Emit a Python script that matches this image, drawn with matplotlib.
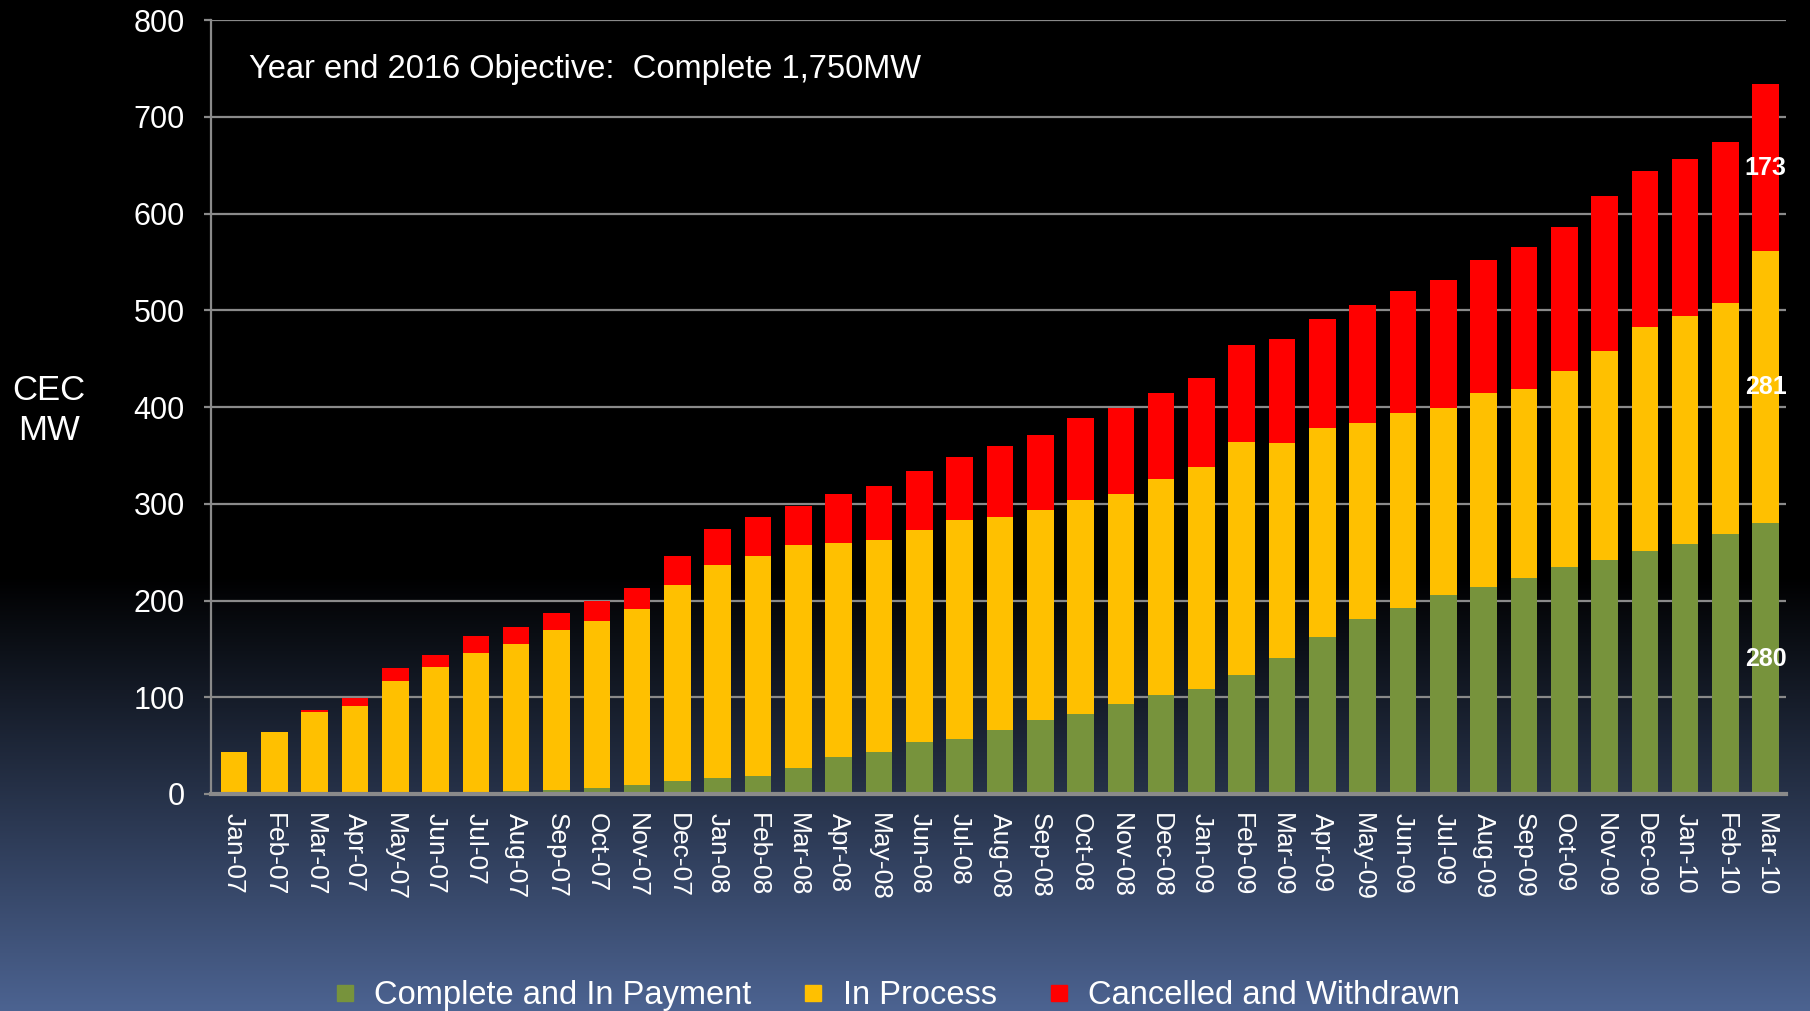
import numpy as np
import matplotlib.pyplot as plt
from matplotlib.lines import Line2D

plt.rcParams['font.family'] = ['Liberation Sans', 'DejaVu Sans']

# Monthly categories
months = ['Jan-07', 'Feb-07', 'Mar-07', 'Apr-07', 'May-07', 'Jun-07', 'Jul-07', 'Aug-07',
          'Sep-07', 'Oct-07', 'Nov-07', 'Dec-07',
          'Jan-08', 'Feb-08', 'Mar-08', 'Apr-08', 'May-08', 'Jun-08', 'Jul-08', 'Aug-08',
          'Sep-08', 'Oct-08', 'Nov-08', 'Dec-08',
          'Jan-09', 'Feb-09', 'Mar-09', 'Apr-09', 'May-09', 'Jun-09', 'Jul-09', 'Aug-09',
          'Sep-09', 'Oct-09', 'Nov-09', 'Dec-09',
          'Jan-10', 'Feb-10', 'Mar-10']

# MW in each state (stacked)
complete = [0.5, 1, 1, 1, 1, 1, 2, 3, 4, 6, 9, 13,
            16, 19, 27, 38, 43, 54, 57, 66, 76, 83, 93, 102,
            109, 123, 141, 162, 181, 192, 206, 214, 223, 235, 242, 251,
            258, 269, 280]
in_process = [42.5, 63, 84, 90, 116, 130, 144, 152, 165, 173, 182, 203,
              221, 227, 230, 221, 220, 219, 226, 220, 218, 221, 217, 224,
              229, 241, 222, 216, 203, 202, 193, 201, 196, 202, 216, 232,
              236, 239, 281]
cancelled = [0, 0, 2, 8, 13, 13, 17, 18, 18, 20, 22, 30,
             37, 40, 41, 51, 55, 61, 65, 74, 77, 85, 89, 89,
             92, 100, 107, 113, 122, 126, 132, 137, 147, 149, 160, 161,
             163, 166, 173]

series_names = ['Complete and In Payment', 'In Process', 'Cancelled and Withdrawn']
colors = ['#77933C', '#FFC000', '#FF0000']

fig = plt.figure(figsize=(18.1, 10.11), dpi=100)
fig.patch.set_facecolor('black')

# background: black top, fading to slate blue at the bottom
bg = fig.add_axes([0, 0, 1, 1])
bg.set_axis_off()
rows = 500
t = np.linspace(0, 1, rows)
start = 0.57
f = np.clip((t - start) / (1 - start), 0, 1)
bottom_rgb = np.array([76, 99, 145]) / 255
grad = f[:, None] * bottom_rgb[None, :]
bg.imshow(grad[:, None, :], aspect='auto', extent=(0, 1, 0, 1), origin='upper')
bg.set_xlim(0, 1)
bg.set_ylim(0, 1)

ax = fig.add_axes([0.1166, 0.2147, 0.8701, 0.7653])
ax.set_facecolor('none')

x = np.arange(len(months))
width = 0.66
c = np.array(complete)
p = np.array(in_process)
r = np.array(cancelled)
ax.bar(x, c, width, color=colors[0], zorder=2)
ax.bar(x, p, width, bottom=c, color=colors[1], zorder=2)
ax.bar(x, r, width, bottom=c + p, color=colors[2], zorder=2)

# value labels on the last bar
last = len(months) - 1
for val, base in [(c[last], 0), (p[last], c[last]), (r[last], c[last] + p[last])]:
    ax.text(x[last], base + val / 2, f'{val:.0f}', ha='center', va='center',
            color='white', fontsize=18, fontweight='bold', zorder=3)

ax.set_xlim(-0.57, len(months) - 0.5)
ax.set_ylim(0, 800)
ax.set_yticks(range(0, 801, 100))
ax.yaxis.grid(True, color='#8a8a8a', lw=1.6, zorder=0)
ax.set_axisbelow(True)

ax.set_xticks(x)
ax.set_xticklabels(months, rotation=-90, fontsize=19, color='white')
ax.tick_params(axis='x', length=0, pad=14)
ax.tick_params(axis='y', colors='white', labelsize=22, length=5, width=1.6,
               color='#8a8a8a', pad=14)

for s in ['top', 'right']:
    ax.spines[s].set_visible(False)
ax.spines['left'].set_color('#8a8a8a')
ax.spines['left'].set_linewidth(1.6)
ax.spines['bottom'].set_color('#8a8a8a')
ax.spines['bottom'].set_linewidth(3)

fig.text(0.0268, 0.594, 'CEC\nMW', color='white', fontsize=25, ha='center', va='center',
         linespacing=1.3)

ax.text(0.024, 0.936, 'Year end 2016 Objective:  Complete 1,750MW', transform=ax.transAxes,
        color='white', fontsize=23.5, ha='left', va='center')

handles = [Line2D([], [], marker='s', ls='none', markersize=12, color=col) for col in colors]
fig.legend(handles, series_names, loc='center', bbox_to_anchor=(0.495, 0.015), ncol=3,
           frameon=False, fontsize=23.5, labelcolor='white', handletextpad=0.5,
           columnspacing=1.5, handlelength=0.8)

fig.savefig('out.png', dpi=100, facecolor=fig.get_facecolor())
